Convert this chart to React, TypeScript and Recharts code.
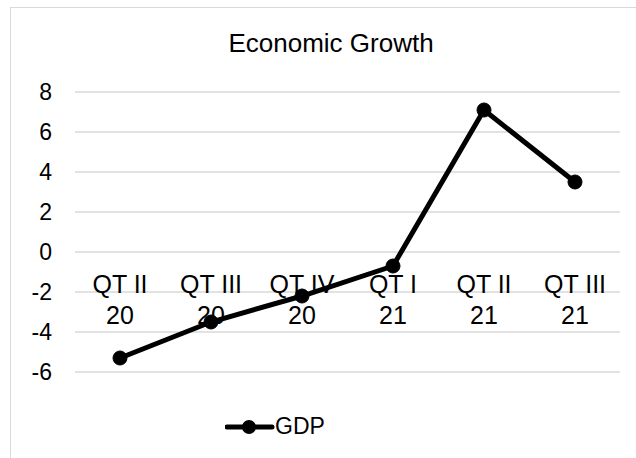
import React from 'react';
import { LineChart, Line, XAxis, YAxis, CartesianGrid } from 'recharts';

const quarters = ['QT II', 'QT III', 'QT IV', 'QT I', 'QT II', 'QT III'];
const years = ['20', '20', '20', '21', '21', '21'];
const gdp = [-5.3, -3.5, -2.2, -0.7, 7.1, 3.5];
const yTicks = [-6, -4, -2, 0, 2, 4, 6, 8];

const FONT = '"Liberation Sans", Arial, sans-serif';
const CHART_W = 626;
const CHART_H = 451;
const X_AXIS_H = 30;
const MARGIN = { top: 84, right: 17, left: 0, bottom: 87 - X_AXIS_H };
const PLOT_H = CHART_H - 84 - 87;
const Y_MIN = -6;
const Y_MAX = 8;
// distance from the bottom of the plot up to the zero line
const ZERO_UP = (PLOT_H * (0 - Y_MIN)) / (Y_MAX - Y_MIN);

const data = quarters.map((q, i) => ({
  key: i,
  quarter: q,
  year: years[i],
  gdp: gdp[i],
}));

function renderCategoryTick(props: any) {
  const { x, y, payload } = props;
  const row = data[Number(payload.value)];
  if (!row) return <g />;
  const zeroY = y - ZERO_UP;
  return (
    <text x={x} y={zeroY} textAnchor="middle" fontFamily={FONT} fontSize={25} fill="#000">
      <tspan x={x} dy={41}>{row.quarter}</tspan>
      <tspan x={x} dy={31}>{row.year}</tspan>
    </text>
  );
}

function App() {
  return (
    <div
      style={{
        position: 'absolute',
        left: 10,
        top: 7,
        width: CHART_W,
        height: CHART_H,
        borderTop: '1px solid #d9d9d9',
        borderLeft: '1px solid #d9d9d9',
        background: '#fff',
      }}
    >
      <div
        style={{
          position: 'absolute',
          left: 0,
          top: 20,
          width: 640,
          textAlign: 'center',
          fontFamily: FONT,
          fontSize: 26,
          color: '#000',
        }}
      >
        Economic Growth
      </div>
      <LineChart width={CHART_W} height={CHART_H} data={data} margin={MARGIN}>
        <CartesianGrid vertical={false} stroke="#d9d9d9" strokeWidth={1.5} />
        <XAxis
          dataKey="key"
          axisLine={false}
          tickLine={false}
          tickSize={0}
          tickMargin={0}
          height={X_AXIS_H}
          interval={0}
          padding={{ left: 45, right: 45 }}
          tick={renderCategoryTick}
        />
        <YAxis
          domain={[Y_MIN, Y_MAX]}
          ticks={yTicks}
          width={64}
          axisLine={false}
          tickLine={false}
          tickSize={0}
          tickMargin={23}
          tick={{ fontFamily: FONT, fontSize: 23, fill: '#000' }}
        />
        <Line
          dataKey="gdp"
          stroke="#000"
          strokeWidth={5}
          dot={{ r: 7, fill: '#000', stroke: '#000', strokeWidth: 1 }}
          isAnimationActive={false}
        />
      </LineChart>
      <div
        style={{
          position: 'absolute',
          left: 214,
          top: 405,
          display: 'flex',
          alignItems: 'center',
          fontFamily: FONT,
          fontSize: 23,
          color: '#000',
        }}
      >
        <svg width={50} height={20}>
          <line x1={2} y1={10} x2={47} y2={10} stroke="#000" strokeWidth={5} strokeLinecap="round" />
          <circle cx={24} cy={10} r={7} fill="#000" />
        </svg>
        <span>GDP</span>
      </div>
    </div>
  );
}

export default App;
